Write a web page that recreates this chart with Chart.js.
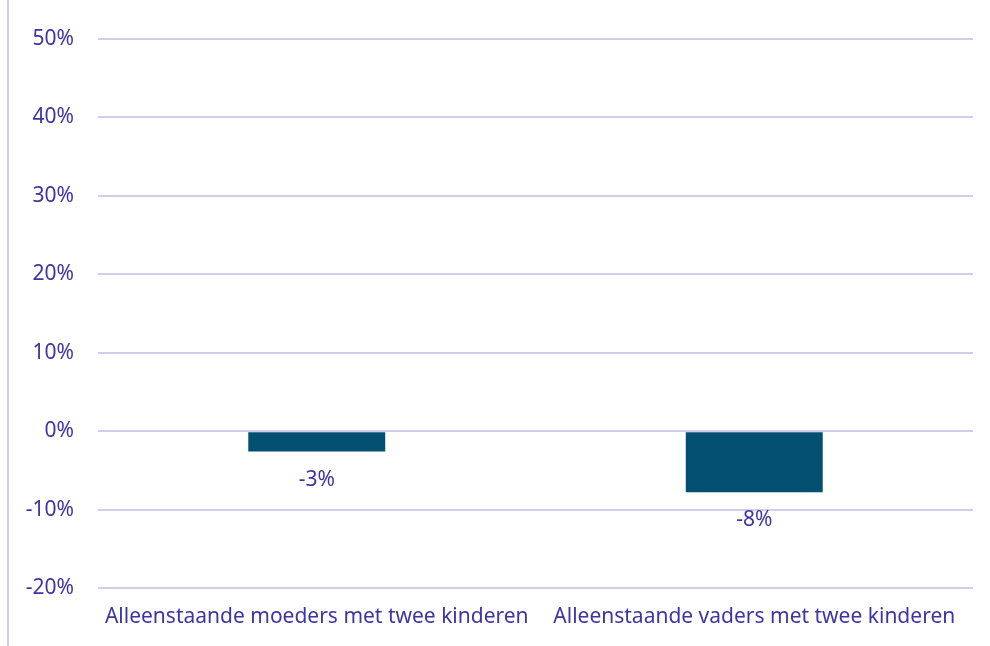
<!DOCTYPE html>
<html>
<head>
<meta charset="utf-8">
<script src="https://cdn.jsdelivr.net/npm/chart.js@4"></script>
<style>
html,body{margin:0;padding:0;background:#fff;}
#wrap{width:990px;height:646px;position:relative;}
</style>
</head>
<body>
<div id="wrap"><canvas id="c" width="990" height="646"></canvas></div>
<script>
const categories = ["Alleenstaande moeders met twee kinderen", "Alleenstaande vaders met twee kinderen"];
const values = [-2.6, -7.8];
const valueLabels = ["-3%", "-8%"];
const yTicks = [-20, -10, 0, 10, 20, 30, 40, 50];

const textColor = "#3d35a3";
const gridColor = "#d2cdef";
const barColor = "#024f72";
const fontFamily = "'Noto Sans', 'Open Sans', sans-serif";
const fontSize = 21;

const leftLine = {
  id: 'leftLine',
  beforeDraw(chart) {
    const ctx = chart.ctx;
    ctx.save();
    ctx.strokeStyle = gridColor;
    ctx.lineWidth = 2;
    ctx.beginPath();
    ctx.moveTo(8, 0);
    ctx.lineTo(8, chart.height);
    ctx.stroke();
    ctx.restore();
  }
};

const valueLabelPlugin = {
  id: 'valueLabels',
  afterDatasetsDraw(chart) {
    const ctx = chart.ctx;
    const meta = chart.getDatasetMeta(0);
    ctx.save();
    ctx.fillStyle = textColor;
    ctx.font = fontSize + "px " + fontFamily;
    ctx.textAlign = 'center';
    ctx.textBaseline = 'middle';
    meta.data.forEach((bar, i) => {
      ctx.fillText(valueLabels[i], bar.x, bar.y + 28);
    });
    ctx.restore();
  }
};

new Chart(document.getElementById('c'), {
  type: 'bar',
  data: {
    labels: categories,
    datasets: [{
      data: values,
      backgroundColor: barColor,
      borderWidth: 0,
      barPercentage: 0.313,
      categoryPercentage: 1
    }]
  },
  options: {
    responsive: false,
    animation: false,
    devicePixelRatio: 1,
    layout: { padding: { left: 0, right: 17, top: 39, bottom: 0 } },
    plugins: { legend: { display: false }, tooltip: { enabled: false } },
    scales: {
      x: {
        grid: { display: false, drawTicks: false },
        border: { display: false },
        ticks: { color: textColor, font: { family: fontFamily, size: fontSize }, padding: 16, maxRotation: 0 },
        afterFit(axis) { axis.height = 58; }
      },
      y: {
        min: -20, max: 50,
        afterBuildTicks(axis) { axis.ticks = yTicks.map(v => ({ value: v })); },
        grid: { color: gridColor, lineWidth: 2, drawTicks: false },
        border: { display: false },
        ticks: {
          color: textColor,
          font: { family: fontFamily, size: fontSize },
          padding: 24,
          callback: v => v + '%'
        },
        afterFit(axis) { axis.width = 98; }
      }
    }
  },
  plugins: [leftLine, valueLabelPlugin]
});
</script>
</body>
</html>
